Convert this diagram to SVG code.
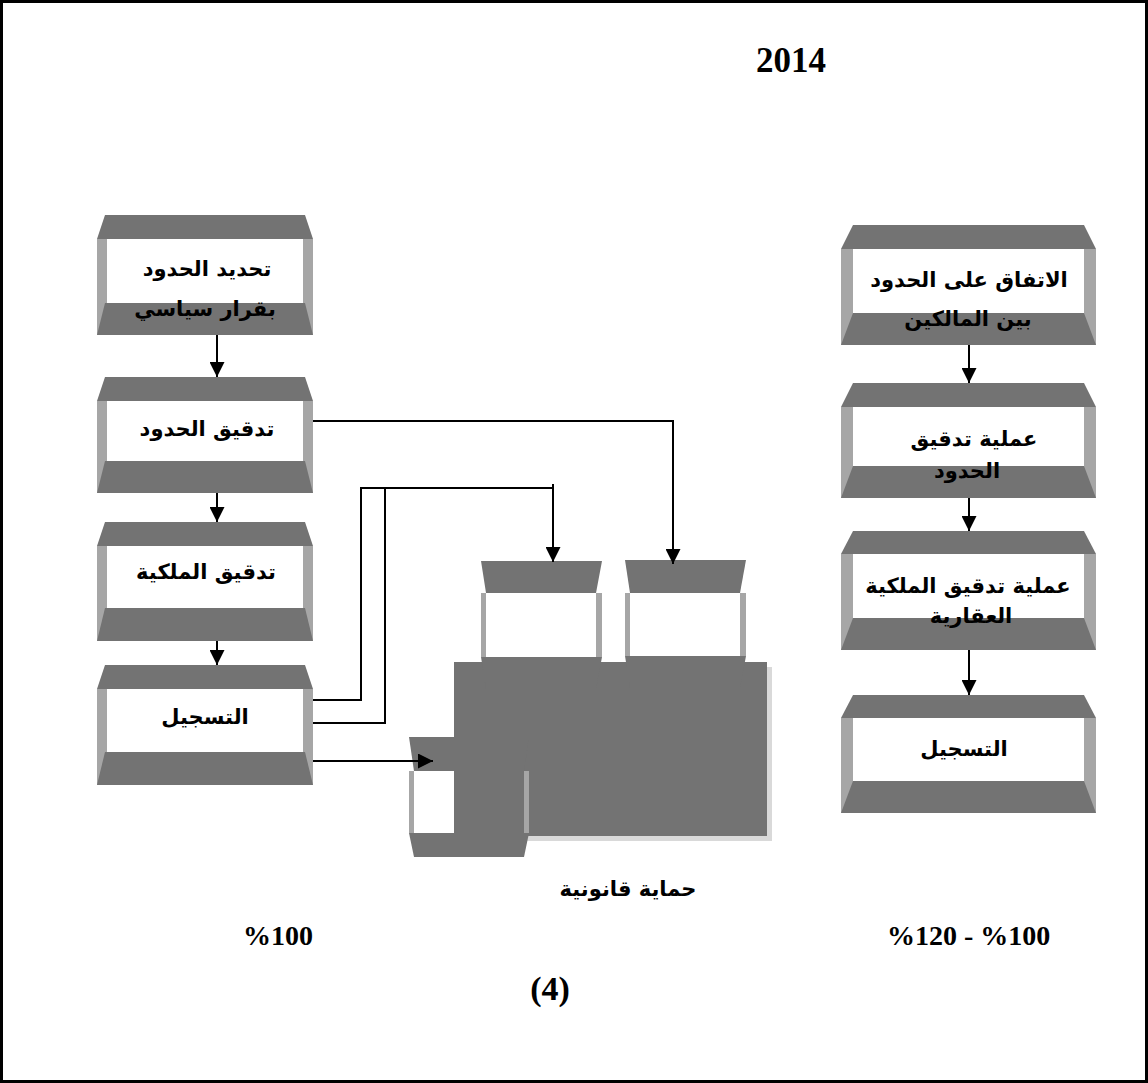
<svg xmlns="http://www.w3.org/2000/svg" width="1148" height="1083" viewBox="0 0 1148 1083">
<style>
.band{fill:#737373}
.strip{fill:#a6a6a6}
.ar{font-family:"DejaVu Sans",sans-serif;font-weight:bold;font-size:21px;fill:#000;text-anchor:middle}
.lat{font-family:"Liberation Serif",serif;font-weight:bold;fill:#000}
.ln{fill:none;stroke:#000;stroke-width:2}
</style>
<defs>
<marker id="ah" viewBox="0 0 10 10" refX="10" refY="5" markerUnits="userSpaceOnUse" markerWidth="15" markerHeight="15" orient="auto">
<path d="M0,0 L10,5 L0,10 z" fill="#000"/>
</marker>
</defs>
<rect x="0" y="0" width="1148" height="1083" fill="#fff"/>
<rect x="1.5" y="1.5" width="1145" height="1080" fill="none" stroke="#000" stroke-width="3"/>

<text class="lat" x="791" y="72" font-size="35" text-anchor="middle">2014</text>

<!-- Left column -->
<g id="L1">
<rect class="strip" x="97" y="239" width="10" height="96"/>
<rect class="strip" x="303" y="239" width="10" height="96"/>
<polygon class="band" points="105,215 305,215 313,239 97,239"/>
<polygon class="band" points="105,303 305,303 313,335 97,335"/>
<text class="ar" x="207" y="276">تحديد الحدود</text>
<text class="ar" x="205" y="316">بقرار سياسي</text>
</g>
<g id="L2">
<rect class="strip" x="97" y="401" width="10" height="92"/>
<rect class="strip" x="303" y="401" width="10" height="92"/>
<polygon class="band" points="105,377 305,377 313,401 97,401"/>
<polygon class="band" points="105,461 305,461 313,493 97,493"/>
<text class="ar" x="207" y="436">تدقيق الحدود</text>
</g>
<g id="L3">
<rect class="strip" x="97" y="546" width="10" height="95"/>
<rect class="strip" x="303" y="546" width="10" height="95"/>
<polygon class="band" points="105,522 305,522 313,546 97,546"/>
<polygon class="band" points="105,608 305,608 313,641 97,641"/>
<text class="ar" x="206" y="579">تدقيق الملكية</text>
</g>
<g id="L4">
<rect class="strip" x="97" y="689" width="10" height="96"/>
<rect class="strip" x="303" y="689" width="10" height="96"/>
<polygon class="band" points="105,665 305,665 313,689 97,689"/>
<polygon class="band" points="105,752 305,752 313,785 97,785"/>
<text class="ar" x="205" y="724">التسجيل</text>
</g>

<!-- Right column -->
<g id="R1">
<rect class="strip" x="841" y="249" width="12" height="96"/>
<rect class="strip" x="1084" y="249" width="12" height="96"/>
<polygon class="band" points="853,225 1084,225 1096,249 841,249"/>
<polygon class="band" points="853,313 1084,313 1096,345 841,345"/>
<text class="ar" x="969" y="287">الاتفاق على الحدود</text>
<text class="ar" x="968" y="326">بين المالكين</text>
</g>
<g id="R2">
<rect class="strip" x="841" y="407" width="12" height="91"/>
<rect class="strip" x="1084" y="407" width="12" height="91"/>
<polygon class="band" points="853,383 1084,383 1096,407 841,407"/>
<polygon class="band" points="853,466 1084,466 1096,498 841,498"/>
<text class="ar" x="974" y="446">عملية تدقيق</text>
<text class="ar" x="967" y="478">الحدود</text>
</g>
<g id="R3">
<rect class="strip" x="841" y="554" width="12" height="96"/>
<rect class="strip" x="1084" y="554" width="12" height="96"/>
<polygon class="band" points="853,531 1084,531 1096,554 841,554"/>
<polygon class="band" points="853,618 1084,618 1096,650 841,650"/>
<text class="ar" x="968" y="593">عملية تدقيق الملكية</text>
<text class="ar" x="971" y="623">العقارية</text>
</g>
<g id="R4">
<rect class="strip" x="841" y="718" width="12" height="95"/>
<rect class="strip" x="1084" y="718" width="12" height="95"/>
<polygon class="band" points="853,695 1084,695 1096,718 841,718"/>
<polygon class="band" points="853,781 1084,781 1096,813 841,813"/>
<text class="ar" x="964" y="756">التسجيل</text>
</g>

<!-- Middle composite -->
<g id="big">
<rect x="459" y="667" width="313" height="174" fill="#d9d9d9"/>
<rect x="454" y="662" width="313" height="174" fill="#737373"/>
</g>
<g id="A">
<rect class="strip" x="481" y="593" width="5" height="64"/>
<rect class="strip" x="596" y="593" width="6" height="64"/>
<polygon class="band" points="481,561 602,561 596,593 486,593"/>
<polygon class="band" points="481,657 602,657 596,689 486,689"/>
</g>
<g id="B">
<rect class="strip" x="625" y="593" width="5" height="63"/>
<rect class="strip" x="740" y="593" width="6" height="63"/>
<polygon class="band" points="625,560 746,560 740,593 630,593"/>
<polygon class="band" points="625,656 746,656 740,688 630,688"/>
</g>
<g id="C">
<rect class="strip" x="409" y="771" width="5" height="62"/>
<rect class="strip" x="524" y="771" width="5" height="62"/>
<polygon class="band" points="409,737 529,737 524,771 414,771"/>
<polygon class="band" points="409,833 529,833 524,857 414,857"/>
</g>
<text class="ar" x="628" y="896">حماية قانونية</text>

<!-- Connectors -->
<g id="connectors">
<path class="ln" d="M217,335 V377" marker-end="url(#ah)"/>
<path class="ln" d="M217,493 V522" marker-end="url(#ah)"/>
<path class="ln" d="M217,641 V665" marker-end="url(#ah)"/>
<path class="ln" d="M969,345 V383" marker-end="url(#ah)"/>
<path class="ln" d="M969,498 V531" marker-end="url(#ah)"/>
<path class="ln" d="M969,650 V695" marker-end="url(#ah)"/>
<path class="ln" d="M313,421 H673 V564" marker-end="url(#ah)"/>
<path class="ln" d="M313,700 H361 V488 H553"/>
<path class="ln" d="M553,484 V562" marker-end="url(#ah)"/>
<path class="ln" d="M313,723 H385 V488"/>
<path class="ln" d="M313,761 H433" marker-end="url(#ah)"/>
</g>

<text class="lat" x="243" y="945" font-size="28">%100</text>
<text class="lat" x="887" y="945" font-size="28">%120 - %100</text>
<text class="lat" x="550" y="1000" font-size="34" text-anchor="middle">(4)</text>
</svg>
